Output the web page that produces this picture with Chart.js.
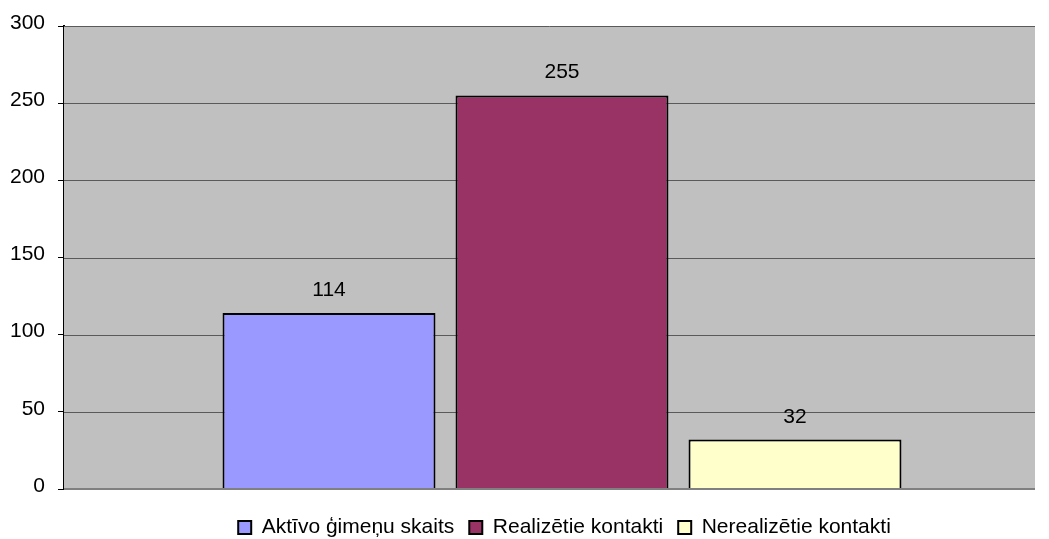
<!DOCTYPE html>
<html>
<head>
<meta charset="utf-8">
<script src="https://cdn.jsdelivr.net/npm/chart.js@4"></script>
<style>
  html, body { margin: 0; padding: 0; background: #fff; }
  #wrap { width: 1049px; height: 539px; }
</style>
</head>
<body>
<div id="wrap"><canvas id="grafiks"></canvas></div>
<script>
const kategorijas = [''];
const sērijas = ['Aktīvo ģimeņu skaits', 'Realizētie kontakti', 'Nerealizētie kontakti'];
const vērtības = [114, 255, 32];
const krāsas = ['#9999FF', '#993366', '#FFFFCC'];
const asuTicks = [0, 50, 100, 150, 200, 250, 300];

const fonts = '"Liberation Sans", Arial, sans-serif';
const labaMala = 14;      // pelēkais laukums beidzas pirms canvas malas
const xNobīde = 11;       // stabiņu grupa nedaudz pa labi no centra
const legendasNobīde = 16;
const legendasAugstums = 37;

// legendai mazāks augstums nekā padding*2 + fonts
const LegendKlase = Chart.registry.getPlugin('legend')._element;
const sakFit = LegendKlase.prototype.fit;
LegendKlase.prototype.fit = function () {
  sakFit.call(this);
  if (this.isHorizontal()) this.height = legendasAugstums;
};

// pelēks fons un režģa līnijas zīmēšanas laukumam
const fonaSpraudnis = {
  id: 'fons',
  afterLayout(chart) {
    const x = chart.scales.x;
    x.right += xNobīde;
    x.configure();
    chart.legend.left += legendasNobīde;
  },
  beforeDatasetsDraw(chart) {
    const { ctx, chartArea: a, scales } = chart;
    const r = a.right - labaMala;
    ctx.save();
    ctx.fillStyle = '#C0C0C0';
    ctx.fillRect(a.left, a.top, r - a.left, a.bottom - a.top);
    ctx.strokeStyle = '#5a5a5a';
    ctx.lineWidth = 1;
    scales.y.ticks.forEach(t => {
      if (t.value === 0) return;
      const y = Math.round(scales.y.getPixelForValue(t.value)) + 0.5;
      ctx.beginPath();
      ctx.moveTo(a.left, y);
      ctx.lineTo(r, y);
      ctx.stroke();
    });
    ctx.restore();
  },
  afterDatasetsDraw(chart) {
    const { ctx, chartArea: a } = chart;
    ctx.save();
    ctx.strokeStyle = '#808080';
    ctx.lineWidth = 2;
    ctx.beginPath();
    ctx.moveTo(a.left, a.bottom);
    ctx.lineTo(a.right - labaMala, a.bottom);
    ctx.stroke();
    ctx.restore();
  }
};

// vērtības virs stabiņiem
const etiķetes = {
  id: 'etiketes',
  afterDatasetsDraw(chart) {
    const ctx = chart.ctx;
    ctx.save();
    ctx.font = '21px ' + fonts;
    ctx.fillStyle = '#000';
    ctx.textAlign = 'center';
    ctx.textBaseline = 'alphabetic';
    chart.data.datasets.forEach((ds, i) => {
      chart.getDatasetMeta(i).data.forEach((bar, j) => {
        ctx.fillText(ds.data[j], bar.x, bar.y - 17);
      });
    });
    ctx.restore();
  }
};

new Chart(document.getElementById('grafiks').getContext('2d'), {
  type: 'bar',
  data: {
    labels: kategorijas,
    datasets: sērijas.map((s, i) => ({
      label: s,
      data: [vērtības[i]],
      backgroundColor: krāsas[i],
      borderColor: '#000',
      borderWidth: 2,
      borderSkipped: 'bottom',
      categoryPercentage: 0.7018,
      barPercentage: 0.914
    }))
  },
  options: {
    responsive: true,
    maintainAspectRatio: false,
    animation: false,
    layout: { padding: { top: 26, right: 0, left: 0, bottom: 0 } },
    plugins: {
      legend: {
        position: 'bottom',
        fullSize: false,
        labels: {
          font: { size: 21, family: fonts },
          color: '#000',
          boxWidth: 13,
          boxHeight: 13,
          padding: 15
        }
      },
      tooltip: { enabled: false }
    },
    scales: {
      x: {
        grid: { display: false, drawTicks: false },
        border: { display: false },
        ticks: { display: false },
        afterFit(scale) { scale.height = 13; }
      },
      y: {
        min: 0,
        max: 300,
        afterBuildTicks(scale) { scale.ticks = asuTicks.map(v => ({ value: v })); },
        afterFit(scale) { scale.width = 64; },
        grid: { drawOnChartArea: false, tickLength: 6, tickColor: '#000' },
        border: { color: '#000', width: 2 },
        ticks: {
          color: '#000',
          font: { size: 21, family: fonts },
          padding: 13,
          labelOffset: -3
        }
      }
    }
  },
  plugins: [fonaSpraudnis, etiķetes]
});
</script>
</body>
</html>
